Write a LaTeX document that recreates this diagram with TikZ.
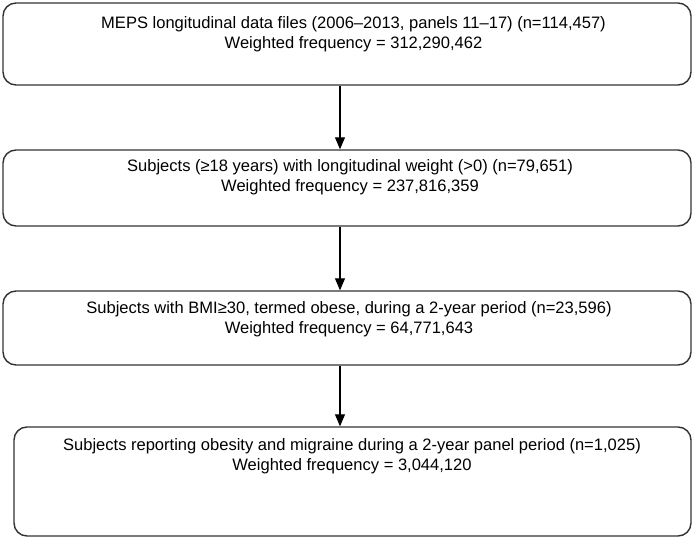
\documentclass[tikz,border=0pt]{standalone}
\usepackage{fontspec}
\setmainfont{Liberation Sans}
\usetikzlibrary{arrows.meta}
\definecolor{edge}{HTML}{333333}
\tikzset{
  box/.style={draw=edge, line width=1.4bp, rounded corners=13bp, inner sep=0pt, fill=white},
  lbl/.style={anchor=base, inner sep=0pt, font=\fontsize{16.6}{20}\selectfont, text=black},
  arr/.style={draw=black, line width=1.1bp, -{Triangle[length=12bp,width=10bp]}}
}
\begin{document}
\begin{tikzpicture}[x=1bp,y=-1bp]
\useasboundingbox (0,0) rectangle (696,543);
\node[box, minimum width=688bp, minimum height=82bp] (b1) at (347,44) {};
\node[box, minimum width=688bp, minimum height=76bp] (b2) at (347,188) {};
\node[box, minimum width=688bp, minimum height=74bp] (b3) at (347,328) {};
\node[box, minimum width=677bp, minimum height=109bp] (b4) at (352.5,481.5) {};
\node[lbl] (t1a) at (353.5,29) {MEPS longitudinal data files (2006–2013, panels 11–17) (n=114,457)};
\node[lbl] (t1b) at (353.5,49) {Weighted frequency = 312,290,462};
\node[lbl] (t2a) at (350,172) {Subjects (≥18 years) with longitudinal weight (>0) (n=79,651)};
\node[lbl] (t2b) at (350,192) {Weighted frequency = 237,816,359};
\node[lbl] (t3a) at (349,313) {Subjects with BMI≥30, termed obese, during a 2-year period (n=23,596)};
\node[lbl] (t3b) at (349,333) {Weighted frequency = 64,771,643};
\node[lbl] (t4a) at (352,450) {Subjects reporting obesity and migraine during a 2-year panel period (n=1,025)};
\node[lbl] (t4b) at (352,470) {Weighted frequency = 3,044,120};
\coordinate (ax) at (340,0);
\draw[arr] (b1.south -| ax) -- (b2.north -| ax);
\draw[arr] (b2.south -| ax) -- (b3.north -| ax);
\draw[arr] (b3.south -| ax) -- (b4.north -| ax);
\end{tikzpicture}
\end{document}
